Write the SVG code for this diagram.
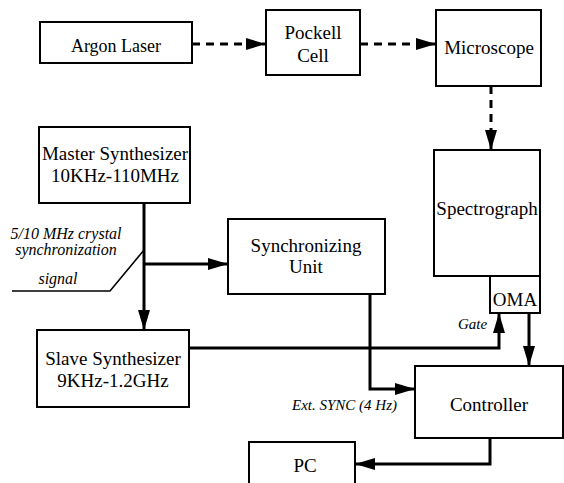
<svg xmlns="http://www.w3.org/2000/svg" width="564" height="483" viewBox="0 0 564 483">
<style>
.box{fill:#fff;stroke:#000;stroke-width:2}
.t{font-family:'Liberation Serif','Times New Roman',Times,'DejaVu Serif',serif;font-size:19px;text-anchor:middle;fill:#000}
.i{font-family:'Liberation Serif','Times New Roman',Times,'DejaVu Serif',serif;font-style:italic;font-size:15px;fill:#000}
.c{fill:none;stroke:#000;stroke-width:3}
.d{fill:none;stroke:#000;stroke-width:3;stroke-dasharray:8 6}
</style>
<defs>
<marker id="ah" markerUnits="userSpaceOnUse" markerWidth="20" markerHeight="12" refX="20" refY="6" orient="auto">
<path d="M0,0 L20,6 L0,12 z" fill="#000"/>
</marker>
</defs>
<rect width="564" height="483" fill="#fff"/>
<g id="connectors">
<line class="d" x1="192" y1="44" x2="266" y2="44" marker-end="url(#ah)"/>
<line class="d" x1="360" y1="44" x2="436" y2="44" marker-end="url(#ah)"/>
<line class="d" x1="491" y1="86" x2="491" y2="150" marker-end="url(#ah)"/>
<line class="c" x1="144" y1="203" x2="144" y2="330" marker-end="url(#ah)"/>
<line class="c" x1="144" y1="264" x2="228" y2="264" marker-end="url(#ah)"/>
<polyline fill="none" stroke="#000" stroke-width="1.6" points="12,291 110,291 144,250"/>
<polyline class="c" points="370,294 370,389 415,389" marker-end="url(#ah)"/>
<polyline class="c" points="189,348 499,348 499,313" marker-end="url(#ah)"/>
<line class="c" x1="529" y1="313" x2="529" y2="366" marker-end="url(#ah)"/>
<polyline class="c" points="490,438 490,464 355,464" marker-end="url(#ah)"/>
</g>
<g id="argon"><rect class="box" x="40" y="22" width="152" height="41"/><text class="t" x="116" y="52" style="font-size:18px">Argon Laser</text></g>
<g id="pockell"><rect class="box" x="266" y="10" width="94" height="65"/><text class="t" x="313" y="39">Pockell</text><text class="t" x="313" y="62">Cell</text></g>
<g id="microscope"><rect class="box" x="436" y="10" width="105" height="76"/><text class="t" x="489" y="54">Microscope</text></g>
<g id="master"><rect class="box" x="39" y="127" width="151" height="76"/><text class="t" x="115" y="160">Master Synthesizer</text><text class="t" x="115" y="182">10KHz-110MHz</text></g>
<g id="signal-label"><text class="i" x="66" y="239" text-anchor="middle" style="font-size:16px">5/10 MHz crystal</text><text class="i" x="66" y="255" text-anchor="middle" style="font-size:16px">synchronization</text><text class="i" x="58" y="284" text-anchor="middle" style="font-size:16px">signal</text></g>
<g id="sync"><rect class="box" x="228" y="219" width="157" height="75"/><text class="t" x="306" y="252">Synchronizing</text><text class="t" x="306" y="273">Unit</text></g>
<g id="spectrograph"><rect class="box" x="434" y="150" width="106" height="126"/><text class="t" x="487" y="215">Spectrograph</text></g>
<g id="oma"><rect class="box" x="490" y="276" width="50" height="37"/><text class="t" x="515" y="306">OMA</text></g>
<g id="slave"><rect class="box" x="37" y="330" width="152" height="77"/><text class="t" x="113" y="365">Slave Synthesizer</text><text class="t" x="113" y="387">9KHz-1.2GHz</text></g>
<g id="controller"><rect class="box" x="415" y="366" width="148" height="72"/><text class="t" x="489" y="411">Controller</text></g>
<g id="pc"><rect class="box" x="249" y="442" width="106" height="50"/><text class="t" x="305" y="472">PC</text></g>
<text class="i" x="458" y="329">Gate</text>
<text class="i" x="292" y="410">Ext. SYNC (4 Hz)</text>
</svg>
